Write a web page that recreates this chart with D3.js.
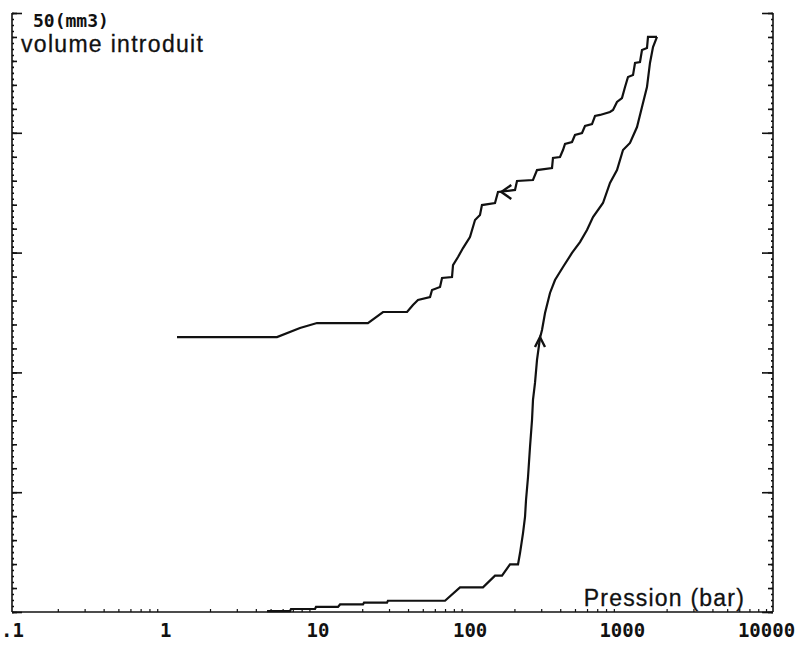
<!DOCTYPE html>
<html>
<head>
<meta charset="utf-8">
<script src="https://cdn.jsdelivr.net/npm/d3@7"></script>
<style>
  html, body { margin: 0; padding: 0; background: #fff; }
  svg { display: block; }
</style>
</head>
<body>
<svg id="chart" width="801" height="645"></svg>
<script>
// ---------- data ----------
const pressureTicks = [0.1, 1, 10, 100, 1000, 10000];
const pressureTickLabels = [".1", "1", "10", "100", "1000", "10000"];
const volumeDomain = [0, 50];
const volumeMajorTicks = [0, 10, 20, 30, 40, 50];
const yUnitLabel = "50(mm3)";
const yTitle = "volume introduit";
const xTitle = "Pression (bar)";

// compression branch (pressure rising), bar / mm3
const compressionP = [4.74, 6.71, 6.81, 9.79, 9.94, 13.87, 14.30, 20.24, 20.55, 29.1, 29.5, 70.0,
  87.8, 124.3, 149.1, 165.8, 187.1, 211.2, 217.7, 227.8, 234.8, 238.4, 245.7, 253.2, 261.0, 264.9,
  273.1, 281.5, 294.5, 303.6, 317.8, 342.6, 369.6, 417.2, 477.9, 539.3, 599.6, 656.8, 763.8, 849.2,
  944.1, 1034, 1149, 1278, 1378, 1486, 1555, 1628, 1729];
const compressionV = [0.08, 0.08, 0.25, 0.25, 0.42, 0.42, 0.63, 0.63, 0.78, 0.78, 0.94, 0.94,
  2.06, 2.06, 3.03, 3.03, 3.98, 3.98, 4.92, 6.59, 7.93, 9.35, 11.27, 13.77, 16.03, 17.70,
  19.12, 21.04, 22.87, 23.54, 24.96, 26.63, 27.71, 28.80, 29.97, 30.88, 31.89, 32.97, 34.14, 35.81,
  36.89, 38.56, 39.15, 40.48, 42.15, 43.82, 45.83, 47.16, 48.00];

// decompression branch (pressure falling), bar / mm3
const decompressionP = [1729, 1509, 1486, 1378, 1337, 1240, 1203, 1115, 1066, 1018, 944, 889, 849,
  730, 677, 647, 582, 556, 500, 478, 430, 417, 398.6, 358.4, 353.2, 281.5, 264.9, 208.0, 201.8,
  156.0, 149.1, 122.4, 118.8, 110.2, 102.1, 91.9, 85.2, 79.0, 77.8, 66.9, 64.9, 57.5, 55.8, 46.5,
  43.1, 39.4, 27.4, 21.8, 10.09, 7.80, 5.51, 1.214];
const decompressionV = [48.00, 48.00, 47.08, 46.91, 45.91, 45.83, 44.82, 44.66, 43.82, 42.90, 42.57,
  41.90, 41.74, 41.49, 41.40, 40.73, 40.57, 39.98, 39.82, 39.23, 39.07, 38.56, 37.98, 37.90, 37.06,
  36.89, 36.06, 35.98, 35.23, 35.06, 34.14, 33.97, 33.14, 32.72, 31.30, 30.38, 29.63, 28.96, 27.96,
  27.88, 27.13, 26.88, 26.29, 26.04, 25.63, 25.04, 25.04, 24.12, 24.12, 23.71, 22.95, 22.95];

// direction arrows on the curves
const arrowP = [164.0, 294.5];
const arrowV = [35.06, 22.95];
const arrowDir = ["left", "up"];

// ---------- drawing ----------
const svg = d3.select("#chart");
const mLeft = 12, mRight = 773, mTop = 13, mBottom = 612;

const x = d3.scaleLog().domain([pressureTicks[0], pressureTicks[pressureTicks.length - 1]]).range([mLeft, mRight]);
const y = d3.scaleLinear().domain(volumeDomain).range([mBottom, mTop]);

const ink = "#111";

function vAxis(axisFn, xpos, values, size, withDomain) {
  const g = svg.append("g").attr("transform", `translate(${xpos},0)`)
    .call(axisFn(y).tickValues(values).tickSize(size).tickFormat(""));
  g.selectAll(".tick line").attr("stroke", ink).attr("stroke-width", 1.6);
  if (withDomain) g.select(".domain").attr("stroke", ink).attr("stroke-width", 1.6).attr("fill", "none").attr("d", `M0,${mBottom}V${mTop}`);
  else g.select(".domain").remove();
  return g;
}
const minor2 = d3.range(0, 50.01, 2);
const tiny = d3.range(0, 50.01, 0.5);
vAxis(d3.axisLeft, mLeft, volumeMajorTicks, -10, true);
vAxis(d3.axisLeft, mLeft, minor2, -5, false);
vAxis(d3.axisLeft, mLeft, tiny, -2, false);
vAxis(d3.axisRight, mRight, volumeMajorTicks, -11, true);
vAxis(d3.axisRight, mRight, minor2, -5, false);
vAxis(d3.axisRight, mRight, tiny, -2, false);

// bottom axis
const xg = svg.append("g").attr("transform", `translate(0,${mBottom})`)
  .call(d3.axisBottom(x).tickValues(pressureTicks).tickSize(0).tickPadding(12)
    .tickFormat((d, i) => pressureTickLabels[i]));
xg.select(".domain").attr("stroke", ink).attr("stroke-width", 1.6).attr("fill", "none").attr("d", `M${mLeft},0H${mRight}`);
xg.selectAll("text")
  .attr("font-family", "'DejaVu Sans Mono', monospace")
  .attr("font-weight", "bold")
  .attr("font-size", 19)
  .attr("fill", ink)
  .attr("dx", (d, i) => i === pressureTicks.length - 1 ? -7 : (i === 0 ? 0 : 1));

const minorX = [];
for (let e = -1; e < 4; e++) for (let k = 2; k <= 9; k++) minorX.push(k * Math.pow(10, e));
const xm = svg.append("g").attr("transform", `translate(0,${mBottom})`)
  .call(d3.axisBottom(x).tickValues(minorX).tickSize(-3).tickFormat(""));
xm.select(".domain").remove();
xm.selectAll(".tick line").attr("stroke", ink).attr("stroke-width", 1.2);

// curves
const line = d3.line().x(d => x(d[0])).y(d => y(d[1]));
const comp = compressionP.map((p, i) => [p, compressionV[i]]);
const decomp = decompressionP.map((p, i) => [p, decompressionV[i]]);
[comp, decomp].forEach(data => {
  svg.append("path").datum(data)
    .attr("d", line)
    .attr("fill", "none")
    .attr("stroke", ink)
    .attr("stroke-width", 2.2)
    .attr("stroke-linejoin", "miter");
});

// arrows
arrowP.forEach((p, i) => {
  const cx = x(p), cy = y(arrowV[i]);
  const L = 10;
  let d;
  if (arrowDir[i] === "left") d = `M${cx + L},${cy - 7}L${cx},${cy}L${cx + L},${cy + 7}`;
  else d = `M${cx - 5},${cy + L}L${cx},${cy}L${cx + 5},${cy + L}`;
  svg.append("path").attr("d", d).attr("fill", "none").attr("stroke", ink).attr("stroke-width", 2.4);
});

// texts
svg.append("text").attr("x", 33).attr("y", 27)
  .attr("font-family", "'DejaVu Sans Mono', monospace").attr("font-weight", "bold")
  .attr("font-size", 18).attr("fill", ink).text(yUnitLabel);
svg.append("text").attr("x", 21).attr("y", 52)
  .attr("font-family", "'Liberation Sans', Arial, sans-serif")
  .attr("font-size", 23).attr("letter-spacing", 1.3).attr("fill", ink)
  .attr("stroke", ink).attr("stroke-width", 0.3).text(yTitle);
svg.append("text").attr("x", 745).attr("y", 606).attr("text-anchor", "end")
  .attr("font-family", "'Liberation Sans', Arial, sans-serif")
  .attr("font-size", 23).attr("letter-spacing", 1.2).attr("fill", ink)
  .attr("stroke", ink).attr("stroke-width", 0.3).text(xTitle);
</script>
</body>
</html>
